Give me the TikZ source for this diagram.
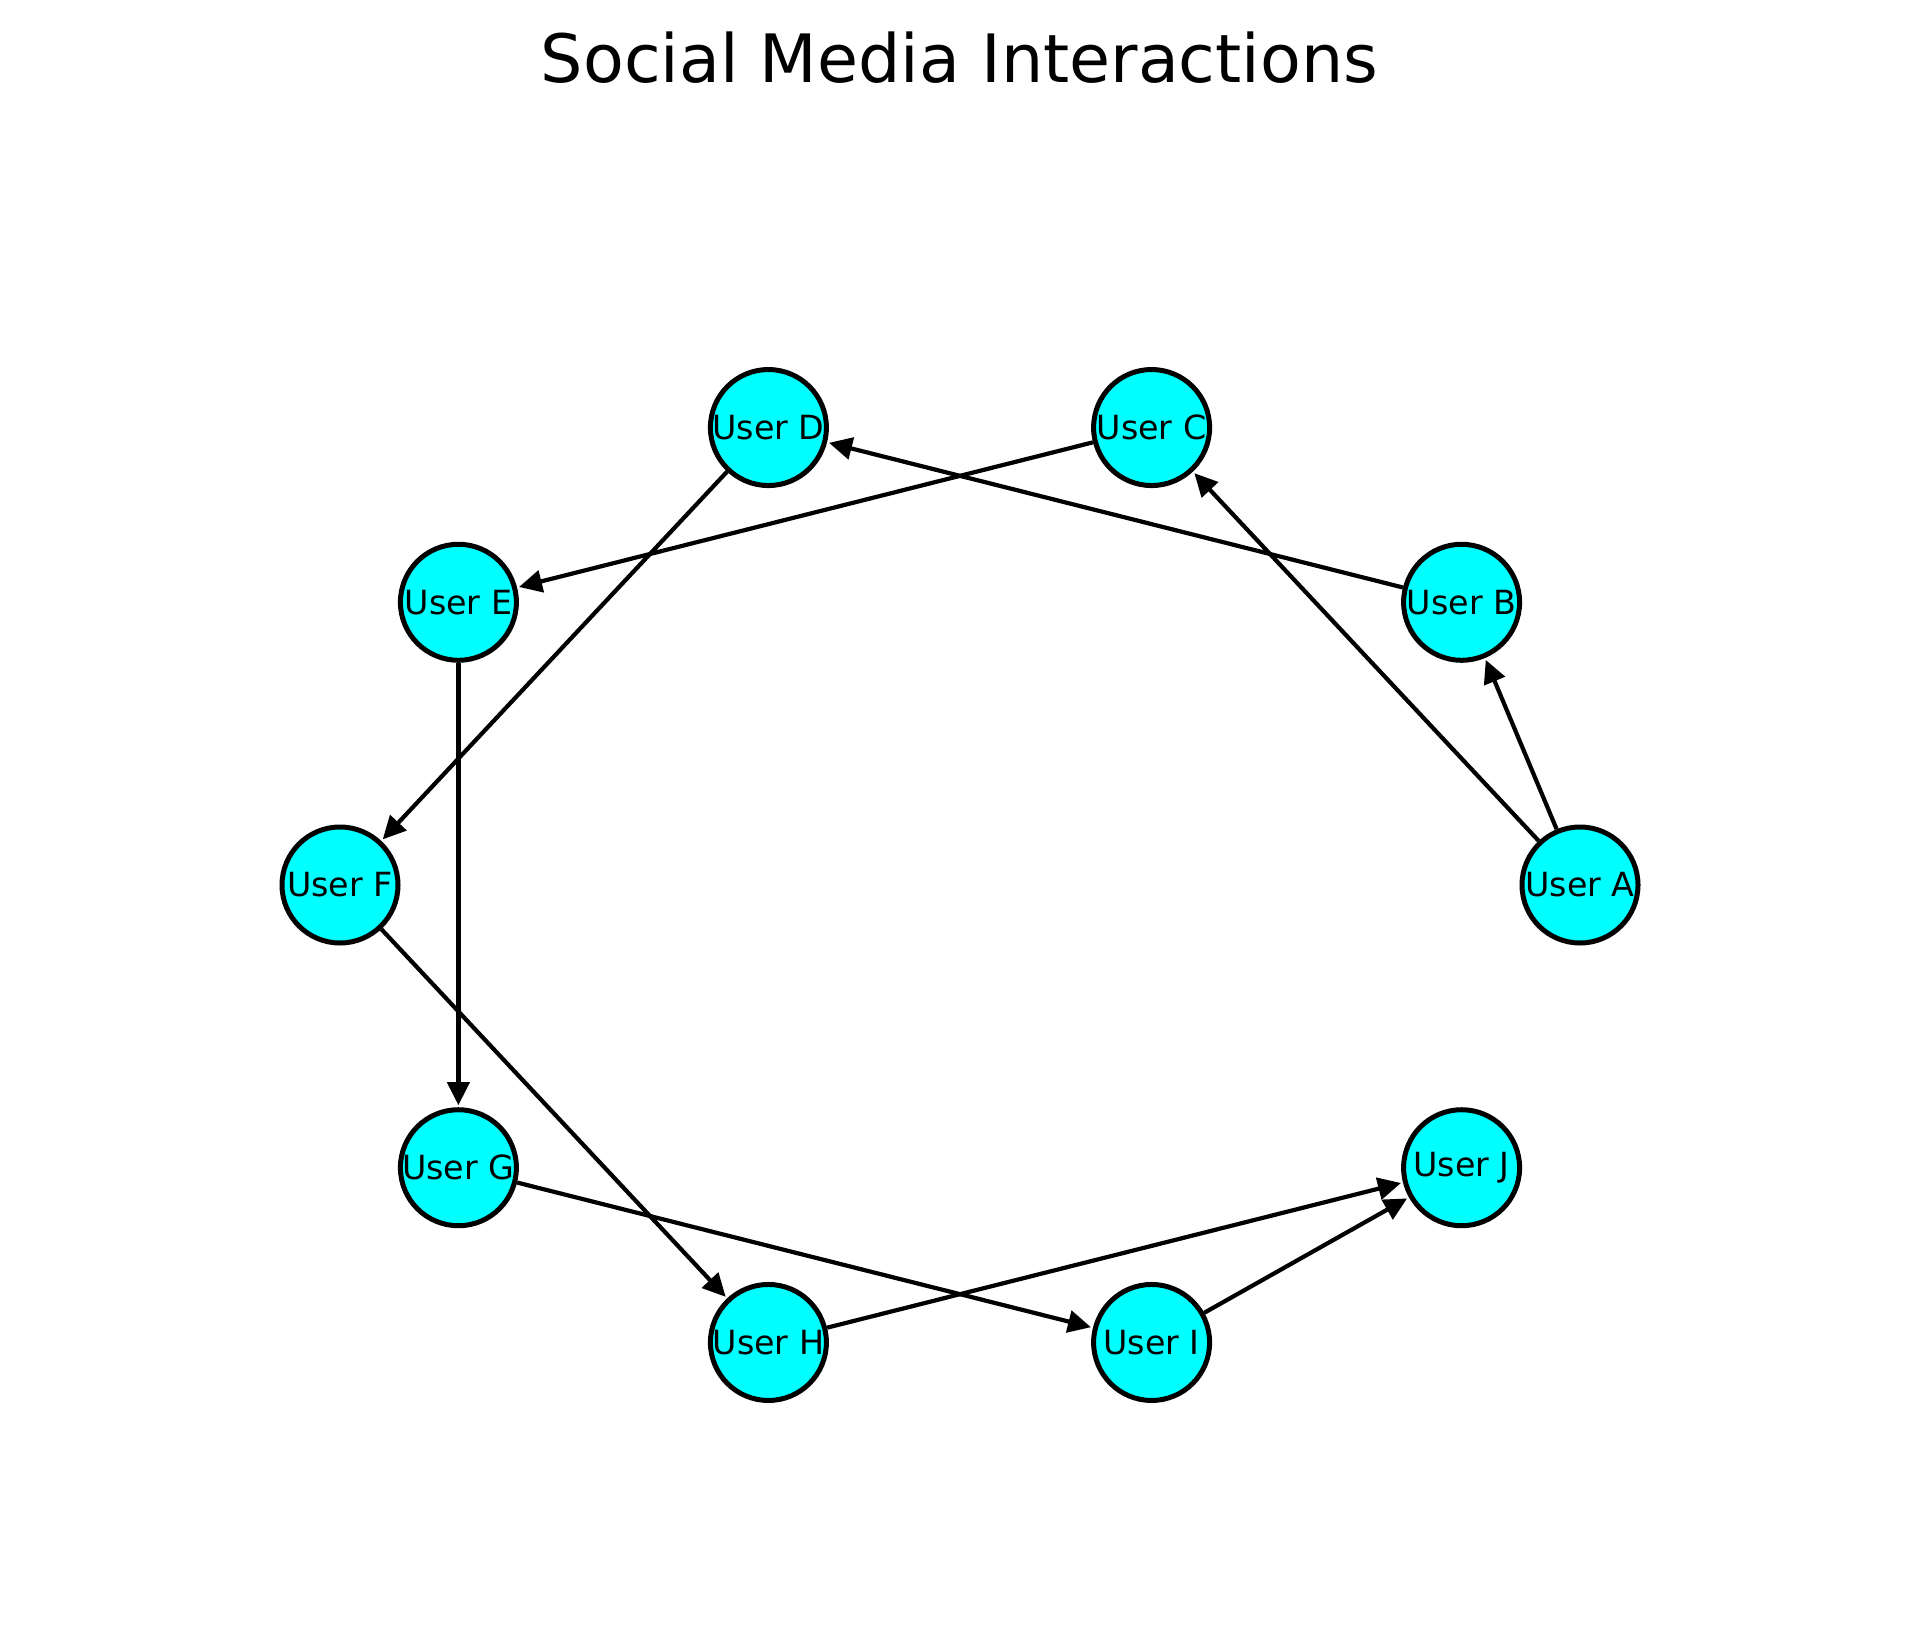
\documentclass[tikz,border=0pt]{standalone}
\usepackage{fontspec}
\setmainfont{DejaVu Sans}
\usetikzlibrary{arrows.meta}
\definecolor{nodecyan}{RGB}{0,255,255}
\begin{document}
\begin{tikzpicture}[x=1pt,y=-1pt,
  user/.style={circle,draw=black,fill=nodecyan,line width=5pt,minimum size=116pt,inner sep=0pt,
    font=\fontsize{33.3pt}{40pt}\selectfont},
  link/.style={line width=4.2pt,-{Triangle[length=23pt,width=22pt]},shorten >=2pt}]
\useasboundingbox (0,0) rectangle (1919,1635);
\node[anchor=base,font=\fontsize{66.7pt}{80pt}\selectfont] (title) at (959.5,83) {Social Media Interactions};
\def\cx{960}\def\cy{885}\def\rx{620}\def\ry{481}
\foreach \n/\ang in {A/0,B/36,C/72,D/108,E/144,F/180,G/216,H/252,I/288,J/324}{
  \node[user] (\n) at ({\cx+\rx*cos(\ang)},{\cy-\ry*sin(\ang)}) {User \n};
}
\foreach \s/\t in {A/B,A/C,B/D,C/E,D/F,E/G,F/H,G/I,H/J,I/J}{
  \draw[link] (\s) -- (\t);
}
\end{tikzpicture}
\end{document}
